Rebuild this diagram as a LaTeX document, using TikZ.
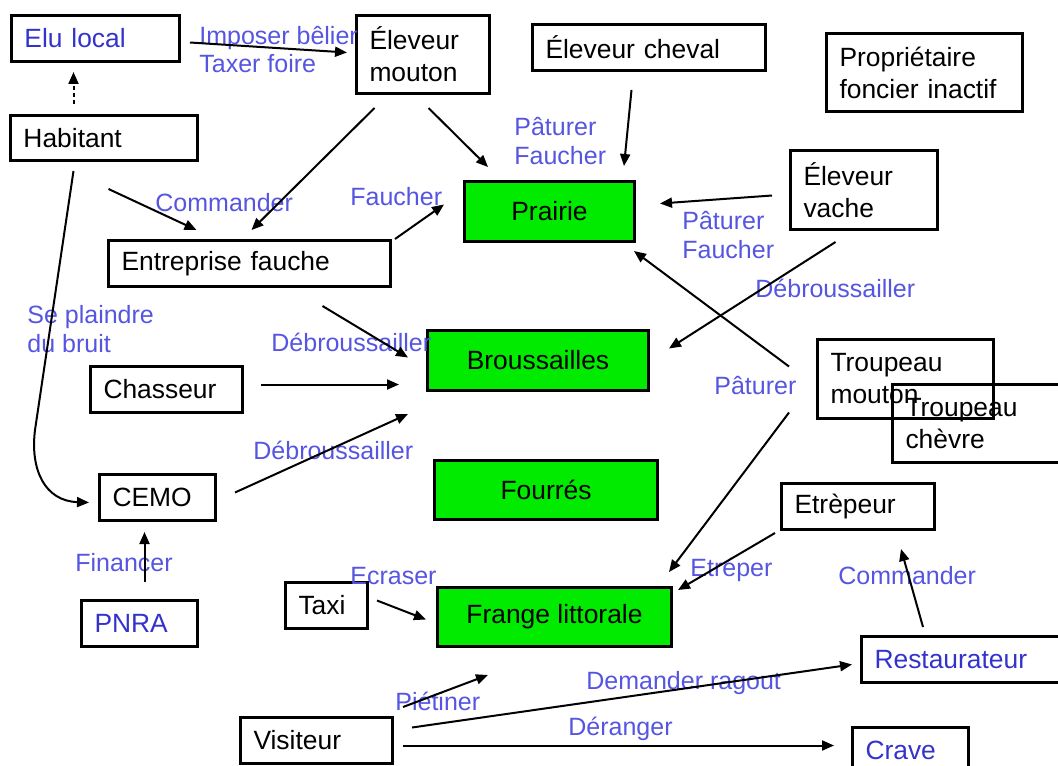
\documentclass[tikz,border=0pt]{standalone}
\usepackage{fontspec}
\setmainfont{Liberation Sans}
\usetikzlibrary{arrows.meta}
\definecolor{milieugreen}{RGB}{0,235,0}
\definecolor{actionblue}{RGB}{85,85,225}
\definecolor{actorblue}{RGB}{51,51,204}

\begin{document}
\begin{tikzpicture}[x=0.5pt, y=-0.5pt,
    actor/.style={draw, line width=1.5pt, anchor=north west, align=left, inner xsep=6.5pt, inner ysep=0pt,
                  font=\fontsize{13.2}{16}\selectfont},
    milieu/.style={draw, line width=1.5pt, anchor=north west, fill=milieugreen, align=center, inner sep=0pt,
                   font=\fontsize{13.2}{16}\selectfont},
    action/.style={text=actionblue, anchor=west, align=left, inner sep=0pt, font=\fontsize{12.5}{14.3}\selectfont},
    link/.style={line width=1pt, -{Triangle[length=6pt, width=5pt]}}]

\useasboundingbox (0,0) rectangle (1058,765);

% acteurs
\node[actor, text=actorblue, text width=71pt, minimum height=23pt] (elu) at (10,14) {Elu local};
\node[actor, text width=53.5pt, minimum height=39pt] (mouton) at (355,14) {Éleveur\\mouton};
\node[actor, text width=103.5pt, minimum height=23pt] (cheval) at (531,23) {Éleveur cheval};
\node[actor, text width=85pt, minimum height=39pt] (proprio) at (825,32) {Propriétaire\\foncier inactif};
\node[actor, text width=80.5pt, minimum height=22.5pt] (habitant) at (9,114) {Habitant};
\node[actor, text width=60.5pt, minimum height=39.5pt] (vache) at (789,149) {Éleveur\\vache};
\node[actor, text width=128pt, minimum height=23pt] (fauche) at (107,239) {Entreprise fauche};
\node[actor, text width=63pt, minimum height=23pt] (chasseur) at (89,365) {Chasseur};
\node[actor, text width=75pt, minimum height=39.5pt] (tmouton) at (816,338) {Troupeau\\mouton};
\node[actor, text width=87pt, minimum height=39pt] (tchevre) at (891,383) {Troupeau\\chèvre};
\node[actor, text width=45pt, minimum height=23pt] (cemo) at (98,473) {CEMO};
\node[actor, text width=63.5pt, minimum height=23pt] (etrepeur) at (780,482) {Etrèpeur};
\node[actor, text=actorblue, text width=45pt, minimum height=23pt] (pnra) at (80,599) {PNRA};
\node[actor, text width=28pt, minimum height=23pt] (taxi) at (284,581) {Taxi};
\node[actor, text width=63pt, minimum height=23pt] (visiteur) at (239,716) {Visiteur};
\node[actor, text=actorblue, text width=97pt, minimum height=23pt] (resto) at (860,635) {Restaurateur};
\node[actor, text=actorblue, text width=45pt, minimum height=23pt] (crave) at (851,726) {Crave};

% milieux
\node[milieu, minimum width=85pt, minimum height=30pt] (prairie) at (463,180) {Prairie};
\node[milieu, minimum width=110.5pt, minimum height=30pt] (brous) at (426,329) {Broussailles};
\node[milieu, minimum width=111.5pt, minimum height=29.5pt] (fourres) at (433,459) {Fourrés};
\node[milieu, minimum width=117pt, minimum height=29.5pt] (frange) at (436,586) {Frange littorale};

% actions
\node[action] (imposer) at (199,49.5) {Imposer bêlier\\Taxer foire};
\node[action] (paturer1) at (514,141) {Pâturer\\Faucher};
\node[action] (commander1) at (155,203) {Commander};
\node[action] (faucher) at (350,197) {Faucher};
\node[action] (paturer2) at (682,235) {Pâturer\\Faucher};
\node[action] (debrous1) at (755,288) {Débroussailler};
\node[action] (plaindre) at (27,329) {Se plaindre\\du bruit};
\node[action] (debrous2) at (271,342) {Débroussailler};
\node[action] (debrous3) at (253,450) {Débroussailler};
\node[action] (paturer3) at (714,386) {Pâturer};
\node[action] (financer) at (75,563) {Financer};
\node[action] (ecraser) at (350,576) {Ecraser};
\node[action] (pietiner) at (395,701) {Piétiner};
\node[action] (etreper) at (690,570) {Etréper};
\node[action] (commander2) at (838,576) {Commander};
\node[action] (demander) at (586,683) {Demander ragout};
\node[action] (deranger) at (568,729) {Déranger};

% liens
\draw[link] ([shift={(9,4)}]elu.east) -- ([shift={(-8,-2)}]mouton.west);
\draw[link, dash pattern=on 2pt off 1.5pt] ([shift={(-30.5,-10)}]habitant.north) -- ([shift={(-22,9)}]elu.south);
\draw[link] ([shift={(-48.5,13)}]mouton.south) -- ([shift={(2,-9)}]fauche.north);
\draw[link] ([shift={(5.5,13)}]mouton.south) -- ([shift={(25,-13)}]prairie.north west);
\draw[link] ([shift={(-17.5,18)}]cheval.south) -- ([shift={(-12,-14)}]prairie.north east);
\draw[link] ([shift={(4.5,27)}]habitant.south) -- ([shift={(-53,-9)}]fauche.north);
\draw[link] ([shift={(3,0)}]fauche.north east) -- ([shift={(-19,-7)}]prairie.west);
\draw[link] ([shift={(-17,5.5)}]vache.west) -- ([shift={(24,-8)}]prairie.east);
\draw[link] ([shift={(-28.5,11)}]vache.south) -- ([shift={(19,-12)}]brous.east);
\draw[link] ([shift={(-27,-12.5)}]tmouton.west) -- ([shift={(-2,8)}]prairie.south east);
\draw[link] ([shift={(73,18)}]fauche.south) -- ([shift={(-18,-3)}]brous.west);
\draw[link] ([shift={(17,-5)}]chasseur.east) -- ([shift={(-27,24)}]brous.west);
\draw[link] ([shift={(18,-5)}]cemo.east) -- ([shift={(-18,22)}]brous.south west);
\coordinate (bend) at (35,430);
\draw[link] ([shift={(-30.5,9)}]habitant.south) -- (bend) .. controls (30,470) and (45,501) .. ([shift={(-9,5)}]cemo.west);
\draw[link] ([shift={(-27,33.5)}]tmouton.west) -- ([shift={(-4,-14)}]frange.north east);
\draw[link] ([shift={(-5,2)}]etrepeur.south west) -- ([shift={(5,4)}]frange.north east);
\draw[link] ([shift={(5,-17)}]pnra.north) -- ([shift={(-13,10)}]cemo.south);
\draw[link] ([shift={(8,-5)}]taxi.east) -- ([shift={(-10,2.5)}]frange.west);
\draw[link] ([shift={(63,-8)}]resto.north west) -- ([shift={(-35,18)}]etrepeur.south east);
\draw[link] ([shift={(9,-9)}]visiteur.north east) -- ([shift={(52,27)}]frange.south west);
\draw[link] ([shift={(18,-13)}]visiteur.east) -- ([shift={(-8,5)}]resto.west);
\draw[link] ([shift={(9,5)}]visiteur.east) -- ([shift={(-17,-5)}]crave.west);
\end{tikzpicture}
\end{document}
